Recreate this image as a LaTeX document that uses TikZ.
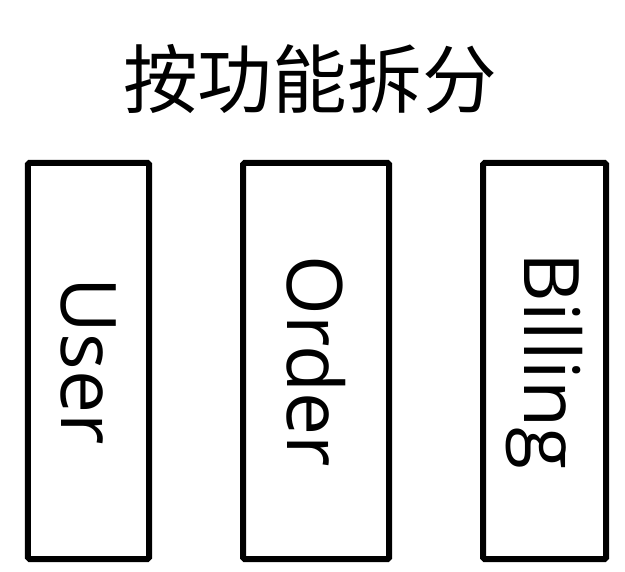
\documentclass[tikz,border=0pt]{standalone}
\usepackage{fontspec}
\setmainfont{Open Sans}
\newfontfamily\cjk{Noto Sans CJK SC}
\usepackage{tikz}

\tikzset{
  svcbox/.style={draw, line width=6bp, rotate=-90, minimum height=#1, minimum width=396bp,
    inner sep=0pt, font=\fontsize{77}{77}\selectfont, rounded corners=1.5bp}
}

\begin{document}
\begin{tikzpicture}[x=1bp,y=1bp]
      \useasboundingbox (0,0) rectangle (625,572);
      \node (title) at (310,493) {\cjk\fontsize{75}{75}\selectfont 按功能拆分};
      \node[svcbox=121bp] (user) at (88.5,211) {User};
      \node[svcbox=146bp] (order) at (316,211) {Order};
      \node[svcbox=123bp] (billing) at (544.5,211) {Billing};
\end{tikzpicture}
\end{document}
